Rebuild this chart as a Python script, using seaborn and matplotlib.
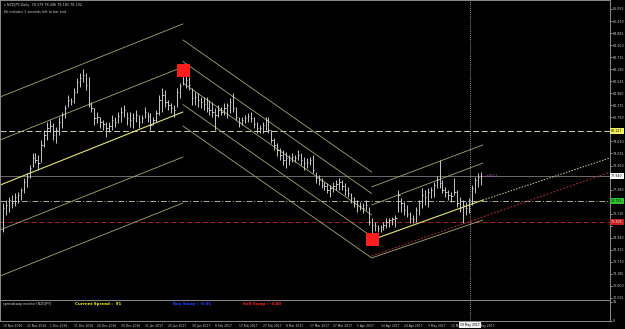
import matplotlib
matplotlib.use("Agg")
import matplotlib.pyplot as plt
import seaborn as sns
import pandas as pd

# ---------------- data ----------------
bar_high = [76.62, 76.77, 76.92, 77.02, 77.11, 77.16, 77.36, 77.84, 78.08, 78.47,
            79.05, 79.05, 78.96, 79.69, 80.18, 80.56, 80.66, 80.51, 80.32, 80.81,
            81.05, 81.39, 81.87, 81.73, 82.22, 82.70, 82.94, 83.14, 82.94, 82.75,
            81.53, 81.24, 81.05, 80.81, 80.66, 80.56, 80.56, 80.90, 80.81, 81.05,
            81.29, 81.39, 81.05, 81.05, 81.00, 81.15, 80.90, 80.90, 81.29, 81.05,
            81.00, 80.81, 81.15, 81.87, 82.22, 82.12, 81.63, 81.49, 81.39, 82.22,
            82.46, 83.19, 82.94, 82.75, 82.22, 82.02, 81.97, 81.78, 81.78, 81.78,
            81.63, 81.53, 81.24, 81.39, 81.29, 81.49, 81.49, 81.73, 81.97, 81.29,
            80.81, 80.81, 80.90, 81.00, 81.05, 80.81, 80.56, 80.42, 80.56, 80.81,
            80.81, 80.18, 79.79, 79.54, 79.30, 79.20, 79.10, 78.96, 79.06, 78.96,
            79.20, 79.06, 78.86, 78.81, 78.86, 78.96, 78.14, 77.99, 77.84, 77.65,
            77.60, 77.50, 77.65, 77.75, 77.84, 77.75, 77.60, 77.41, 77.11, 76.92,
            76.77, 76.68, 76.62, 76.77, 76.43, 75.90, 75.70, 75.56, 75.56, 75.70,
            75.90, 75.90, 75.95, 76.05, 77.26, 76.87, 76.68, 76.53, 76.19, 76.05,
            76.43, 76.77, 77.36, 77.26, 77.36, 77.41, 77.65, 77.94, 78.72, 77.75,
            77.41, 77.26, 77.16, 77.84, 77.26, 76.92, 76.77, 76.68, 76.87, 77.50,
            77.89, 78.09, 78.14]
bar_low = [75.22, 76.05, 76.19, 76.39, 76.48, 76.62, 76.77, 77.11, 77.41, 77.84,
           78.38, 78.57, 78.23, 78.62, 79.35, 79.69, 80.08, 79.69, 79.54, 79.93,
           80.27, 80.76, 81.29, 81.39, 81.49, 81.97, 82.27, 82.51, 82.12, 81.29,
           81.05, 80.42, 80.51, 80.27, 80.18, 79.84, 80.08, 80.18, 80.32, 80.51,
           80.56, 80.81, 80.42, 80.32, 80.27, 80.56, 80.27, 80.51, 80.76, 80.56,
           80.18, 80.42, 80.56, 80.90, 81.05, 81.29, 81.15, 81.00, 80.81, 81.29,
           81.73, 82.36, 82.22, 82.12, 81.39, 81.39, 81.29, 81.24, 81.15, 81.05,
           80.90, 80.81, 80.18, 80.81, 80.90, 80.90, 80.76, 81.00, 81.05, 80.66,
           80.32, 80.42, 80.51, 80.56, 80.56, 80.27, 80.03, 80.03, 80.03, 80.18,
           80.03, 79.54, 79.20, 78.91, 78.72, 78.47, 78.33, 78.47, 78.62, 78.62,
           78.72, 78.47, 78.23, 78.33, 78.47, 78.09, 77.60, 77.50, 77.36, 77.26,
           77.11, 76.92, 77.16, 77.26, 77.26, 77.26, 77.02, 76.92, 76.62, 76.43,
           76.19, 76.29, 76.14, 76.29, 75.56, 75.17, 75.27, 75.22, 75.22, 75.32,
           75.41, 75.46, 75.56, 75.46, 76.19, 76.19, 76.05, 75.95, 75.66, 75.66,
           75.70, 76.05, 76.39, 76.53, 76.43, 76.87, 76.92, 77.36, 77.36, 77.11,
           76.92, 76.77, 76.68, 77.02, 76.43, 76.19, 75.66, 76.05, 76.14, 76.53,
           77.11, 77.41, 77.50]
bar_close = [76.39, 76.53, 76.77, 76.62, 76.92, 77.02, 77.26, 77.65, 77.89, 78.33,
             78.81, 78.72, 78.57, 79.44, 79.93, 80.27, 80.37, 79.93, 80.18, 80.56,
             80.90, 81.24, 81.63, 81.58, 82.02, 82.51, 82.70, 82.85, 82.36, 81.43,
             81.24, 80.76, 80.81, 80.56, 80.47, 80.27, 80.37, 80.66, 80.56, 80.86,
             81.05, 81.15, 80.76, 80.66, 80.76, 80.90, 80.56, 80.76, 81.05, 80.86,
             80.42, 80.66, 81.00, 81.63, 81.87, 81.53, 81.39, 81.24, 81.15, 82.02,
             82.32, 82.85, 82.61, 82.36, 81.73, 81.78, 81.63, 81.53, 81.43, 81.24,
             81.15, 81.05, 80.90, 81.15, 81.05, 81.24, 81.39, 81.53, 81.24, 80.81,
             80.56, 80.66, 80.76, 80.86, 80.76, 80.47, 80.27, 80.27, 80.42, 80.66,
             80.18, 79.69, 79.44, 79.20, 78.96, 78.72, 78.81, 78.72, 78.86, 78.81,
             78.96, 78.72, 78.57, 78.62, 78.72, 78.23, 77.84, 77.75, 77.50, 77.45,
             77.26, 77.36, 77.45, 77.55, 77.65, 77.45, 77.26, 77.11, 76.87, 76.62,
             76.53, 76.48, 76.39, 76.53, 75.70, 75.56, 75.51, 75.41, 75.46, 75.56,
             75.70, 75.80, 75.85, 75.90, 77.02, 76.62, 76.29, 76.09, 75.90, 75.85,
             76.29, 76.62, 77.02, 76.92, 77.16, 77.26, 77.50, 77.75, 77.60, 77.26,
             77.16, 77.02, 76.97, 77.16, 76.62, 76.39, 76.53, 76.39, 76.77, 77.36,
             77.75, 77.89, 77.94]

price_tick_labels = ["86.055", "85.470", "84.885", "84.300", "83.715", "83.130",
                     "82.545", "81.960", "81.375", "80.790", "80.205", "79.620",
                     "79.035", "78.450", "77.865", "77.280", "76.695", "76.110",
                     "75.525", "74.940", "74.355", "73.770", "73.185", "72.600",
                     "72.015"]
date_tick_bars = [0, 8, 16, 24, 32, 40, 48, 56, 64, 72, 80, 88, 96, 104, 112,
                  120, 128, 136, 144, 152, 160]
date_tick_labels = ["10 Nov 2016", "22 Nov 2016", "1 Dec 2016", "11 Dec 2016",
                    "20 Dec 2016", "30 Dec 2016", "11 Jan 2017", "20 Jan 2017",
                    "30 Jan 2017", "8 Feb 2017", "17 Feb 2017", "27 Feb 2017",
                    "8 Mar 2017", "17 Mar 2017", "27 Mar 2017", "5 Apr 2017",
                    "14 Apr 2017", "24 Apr 2017", "3 May 2017", "12 May 2017",
                    "22 May 2017"]

# channel lines (bar index / price anchors)
up1_bars = [-1.0, 61.0]
up1_start = [81.78, 79.69, 77.50, 75.32, 73.08]
up1_end = [85.33, 83.24, 81.05, 78.86, 76.63]
down_bars = [61.0, 125.0]
down_start = [84.55, 83.50, 82.46, 81.41, 80.37]
down_end = [78.13, 77.09, 76.04, 75.00, 73.96]
up2_bars = [125.0, 162.7]
up2_start = [77.41, 76.53, 74.83, 73.96]
up2_end = [79.45, 78.57, 76.77, 75.80]
ext_bars = [162.7, 205.8]
ext_prices = [76.77, 78.82]
red_ext_bars = [125.0, 205.8]
red_ext_prices = [74.05, 78.13]

marker_bars = [61, 125]
marker_prices = [83.11, 74.88]

level_prices = [80.127, 77.940, 76.725, 75.705]
level_labels = ["80.127", "77.940", "76.725", "75.705"]
cursor_bar = 158.3

# ---------------- style ----------------
sns.set_theme(style="dark", rc={"axes.facecolor": "black", "figure.facecolor": "black",
                                "axes.edgecolor": "#8c8c8c", "axes.grid": False})
plt.rcParams["font.family"] = ["DejaVu Sans"]

W, H = 625, 329
fig = plt.figure(figsize=(W / 100, H / 100), dpi=100)
ax = fig.add_axes([0, 1 - 300 / H, 610 / W, 300 / H])
sub = fig.add_axes([0, 1 - 321 / H, 610 / W, 21 / H])

for a in (ax, sub):
    a.set_facecolor("black")
    for s in a.spines.values():
        s.set_color("#8c8c8c")
        s.set_linewidth(0.7)

ax.set_xlim(-1.02, 205.8)
ax.set_ylim(71.915, 86.492)
sub.set_xlim(-1.02, 205.8)
sub.set_ylim(0, 100)

# OHLC bars
idx = list(range(len(bar_high)))
df = pd.DataFrame({"bar": idx, "high": bar_high, "low": bar_low, "close": bar_close})
ax.vlines(df["bar"], df["low"], df["high"], color="#d4d4d4", lw=0.65, zorder=3)
ax.hlines(df["close"], df["bar"], df["bar"] + 0.45, color="#d4d4d4", lw=0.65, zorder=3)

khaki = "#a8a870"
bright = "#e4e47a"


def seg(xs, ys, color, lw=0.6, ls="-"):
    sns.lineplot(x=xs, y=ys, ax=ax, color=color, lw=lw, linestyle=ls,
                 estimator=None, sort=False, legend=False, zorder=2)


for k, (a0, a1) in enumerate(zip(up1_start, up1_end)):
    seg(up1_bars, [a0, a1], bright if k == 2 else khaki, lw=0.8 if k == 2 else 0.6)
for a0, a1 in zip(down_start, down_end):
    seg(down_bars, [a0, a1], khaki)
seg(red_ext_bars, red_ext_prices, "#a83030", lw=0.7, ls=(0, (2, 1.6)))
for k, (a0, a1) in enumerate(zip(up2_start, up2_end)):
    seg(up2_bars, [a0, a1], bright if k == 2 else khaki, lw=0.8 if k == 2 else 0.6)
seg(ext_bars, ext_prices, "#d8d8a0", lw=0.7, ls=(0, (1.5, 1.5)))

# horizontal levels
ax.axhline(level_prices[0], color="#d2d2a6", lw=0.7, ls=(0, (6, 3)), zorder=1)
ax.axhline(level_prices[1], color="#6c6c6c", lw=0.7, zorder=1)
ax.axhline(level_prices[2], color="#a6b48e", lw=0.7, ls=(0, (6, 2, 1, 2)), zorder=1)
ax.axhline(level_prices[3], color="#a82222", lw=0.7, ls=(0, (5, 3)), zorder=1)

# markers
sns.scatterplot(x=marker_bars, y=marker_prices, ax=ax, marker="s", s=80,
                color="#ff1e1e", edgecolor="#ff1e1e", legend=False, zorder=5)

# cursor line
for a in (ax, sub):
    a.axvline(cursor_bar, color="#c8c8c8", lw=0.6, ls=(0, (1, 1.5)), zorder=4)

ax.text(163.8, level_prices[1], "+161.1", color="#c040d0", fontsize=2.4,
        va="center", ha="left", zorder=6)

# right price axis (labels hidden where a level box sits, as in the terminal)
tick_vals = [float(t) for t in price_tick_labels]
span = (86.492 - 71.915) / 300.0
shown = []
for v, t in zip(tick_vals, price_tick_labels):
    near = any(abs(v - p) / span < 6 for p in level_prices)
    shown.append("" if near else t)
ax.yaxis.tick_right()
ax.set_yticks(tick_vals)
ax.set_yticklabels(shown)
ax.tick_params(axis="y", colors="#cfcfcf", labelsize=2.3, length=1.5, width=0.5, pad=0.8)
ax.set_xticks([])

box_colors = ["#f2f25a", "#ffffff", "#2fc42f", "#c82020"]
box_text = ["black", "black", "black", "white"]
for p, lab, fc, tc in zip(level_prices, level_labels, box_colors, box_text):
    ax.text(1.002, p, lab, transform=ax.get_yaxis_transform(), fontsize=2.3,
            color=tc, va="center", ha="left", zorder=10, clip_on=False,
            bbox=dict(boxstyle="square,pad=0.25", fc=fc, ec=fc, lw=0))

# sub window
sub.yaxis.tick_right()
sub.set_yticks([91, 0])
sub.set_yticklabels(["91", "0"])
sub.tick_params(axis="y", colors="#cfcfcf", labelsize=2.3, length=1.5, width=0.5, pad=0.8)
sub.set_xticks(date_tick_bars)
sub.set_xticklabels(date_tick_labels, ha="left")
sub.tick_params(axis="x", colors="#cfcfcf", labelsize=2.2, length=1.5, width=0.5, pad=0.6)


def px(x, y):
    return x / W, 1 - y / H


fig.text(*px(4, 5), "\u25be NZDJPY,Daily  78.379 78.496 78.181 78.192", color="#d0d0d0",
         fontsize=2.4, va="center", ha="left")
fig.text(*px(4, 12), "6h minutes 1 seconds left to bar end", color="#d0d0d0",
         fontsize=2.4, va="center", ha="left")

fig.text(*px(3, 304), "spreadswap monitor [NZDJPY]", color="#d0d0d0", fontsize=2.3,
         va="center", ha="left")
fig.text(*px(75, 304), "Current Spread :  91", color="#f0f000", fontsize=2.9,
         fontweight="bold", va="center", ha="left")
fig.text(*px(173, 304), "Buy Swap : -0.05", color="#2040ff", fontsize=2.9,
         fontweight="bold", va="center", ha="left")
fig.text(*px(243, 304), "Sell Swap : -3.40", color="#ff2020", fontsize=2.9,
         fontweight="bold", va="center", ha="left")

fig.text(*px(470, 325), "19 May 2017", color="black", fontsize=2.2, va="center",
         ha="center", zorder=20,
         bbox=dict(boxstyle="square,pad=0.35", fc="#f0f0f0", ec="#f0f0f0", lw=0))

fig.savefig("out.png", dpi=100, facecolor="black")
